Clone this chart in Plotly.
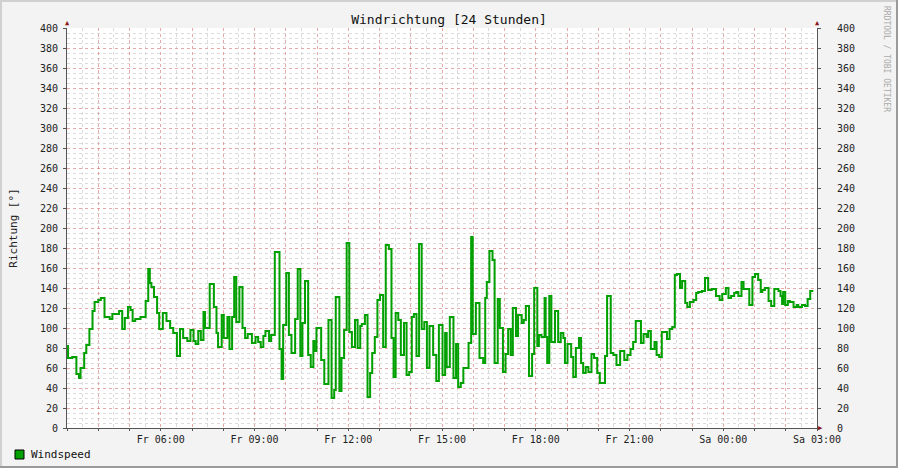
import plotly.graph_objects as go

# ---- data ----
minutes_after_fr_0300 = [0,2,10,18,23,26,33,37,43,49,53,60,65,72,82,87,100,106,111,117,122,126,131,141,151,156,159,162,167,173,177,184,191,198,204,211,217,223,231,237,243,247,252,257,262,265,274,282,287,290,297,301,308,312,317,321,325,331,337,342,347,355,362,367,372,377,381,388,392,399,408,412,415,421,426,431,438,443,448,452,457,463,468,473,475,479,488,494,502,508,513,516,523,527,532,537,542,547,553,558,563,566,572,577,582,586,591,596,601,607,612,618,623,627,631,636,641,647,652,657,662,666,671,676,681,686,691,696,703,709,714,721,726,729,735,742,747,751,756,761,771,776,779,785,792,799,803,806,811,817,821,827,831,837,842,847,852,856,862,866,873,877,881,887,893,897,903,906,911,917,919,922,926,930,937,943,948,953,956,961,968,972,977,983,987,991,996,1001,1007,1012,1018,1023,1033,1037,1044,1049,1055,1062,1070,1076,1082,1087,1092,1102,1107,1113,1116,1121,1128,1132,1137,1142,1152,1157,1162,1167,1171,1177,1181,1187,1191,1196,1203,1208,1212,1219,1225,1231,1238,1246,1253,1258,1265,1270,1275,1281,1285,1289,1295,1299,1310,1316,1321,1327,1332,1335,1340,1347,1352,1358,1366,1370,1373,1375,1379,1384,1388,1395,1401,1404,1411,1417,1422,1427,1433]
richtung = [82,70,71,54,50,60,75,83,99,117,126,128,130,111,109,114,117,99,110,121,118,107,109,111,127,159,145,141,131,115,99,115,107,100,95,72,99,90,87,98,87,84,97,88,116,100,144,121,95,81,113,90,111,79,111,151,106,141,100,90,94,85,91,86,81,92,97,87,93,176,79,49,103,155,93,75,109,159,72,105,147,73,61,87,77,100,68,44,108,30,38,131,37,70,98,185,96,81,108,80,102,104,113,31,55,75,91,128,133,81,183,179,90,51,115,108,73,105,53,56,111,114,72,184,99,106,60,102,73,47,103,53,95,61,111,50,84,41,45,60,85,191,94,125,70,65,130,146,177,168,65,129,100,56,74,99,73,120,92,113,105,108,122,52,74,140,82,93,91,130,91,65,132,86,117,86,95,90,65,84,71,51,80,90,65,55,61,56,74,70,55,45,72,132,75,73,63,77,68,73,79,86,107,85,94,91,97,79,86,73,71,96,89,99,101,153,154,140,147,125,121,126,128,135,136,137,150,138,139,132,128,134,140,130,132,135,136,132,146,139,123,151,154,148,136,138,140,127,122,139,137,132,124,136,123,127,126,121,123,121,123,122,129,137,137]

tick_minutes = [180, 360, 540, 720, 900, 1080, 1260, 1440]
tick_labels = ["Fr 06:00", "Fr 09:00", "Fr 12:00", "Fr 15:00", "Fr 18:00", "Fr 21:00", "Sa 00:00", "Sa 03:00"]
y_ticks = list(range(0, 401, 20))
legend_label = "Windspeed"

MONO = "DejaVu Sans Mono"
GREEN = "#00A000"
AXIS = "#555555"
MAJOR = "rgba(240,120,120,0.5)"
MINOR = "rgba(190,190,190,0.55)"

# hourly grid values, labels only every 3 hours
grid_vals = list(range(0, 1441, 60))
grid_text = [tick_labels[tick_minutes.index(v)] if v in tick_minutes else "" for v in grid_vals]

fig = go.Figure()
fig.add_trace(go.Scatter(
    x=minutes_after_fr_0300, y=richtung, mode="lines", line_shape="hv",
    line=dict(color=GREEN, width=2), showlegend=False, hoverinfo="skip"))
fig.add_trace(go.Scatter(x=[0], y=[0], yaxis="y2", mode="markers",
                         marker=dict(opacity=0), showlegend=False, hoverinfo="skip"))

fig.update_layout(
    width=898, height=468,
    margin=dict(l=67, r=81, t=28, b=40, autoexpand=False),
    paper_bgcolor="#F3F3F3", plot_bgcolor="white",
    font=dict(family=MONO, size=10, color="#222222"),
    showlegend=False,
    title=dict(text="Windrichtung [24 Stunden]", x=0.5, xanchor="center",
               y=1 - 19 / 468, yanchor="middle", font=dict(family=MONO, size=13, color="#111111")),
    xaxis=dict(range=[0, 1440], tickmode="array", tickvals=grid_vals, ticktext=grid_text,
               showgrid=True, gridcolor=MAJOR, griddash="dot", gridwidth=1,
               minor=dict(dtick=30, tick0=0, showgrid=True, gridcolor=MINOR, griddash="dot"),
               showline=True, linecolor=AXIS, linewidth=1, ticks="outside", ticklen=2,
               tickcolor=AXIS, zeroline=False, fixedrange=True, automargin=False,
               tickfont=dict(family=MONO, size=10, color="#222222")),
    yaxis=dict(range=[0, 400], tickmode="array", tickvals=y_ticks,
               showgrid=True, gridcolor=MAJOR, griddash="dot", gridwidth=1,
               minor=dict(dtick=5, tick0=0, showgrid=True, gridcolor=MINOR, griddash="dot"),
               showline=True, linecolor=AXIS, linewidth=1, ticks="outside", ticklen=3,
               tickcolor=AXIS, zeroline=False, ticklabelstandoff=3, automargin=False,
               title=dict(text="Richtung [°]", font=dict(family=MONO, size=11, color="#222222"), standoff=20),
               tickfont=dict(family=MONO, size=10, color="#222222")),
    yaxis2=dict(range=[0, 400], overlaying="y", side="right", tickmode="array", tickvals=y_ticks,
                showgrid=False, showline=True, linecolor=AXIS, linewidth=1, automargin=False,
                ticks="outside", ticklen=3, tickcolor=AXIS, zeroline=False, ticklabelstandoff=14,
                tickfont=dict(family=MONO, size=10, color="#222222")),
)

# pixel helpers (plot area: x 67..817, y 28..428)
W, Hp = 750.0, 400.0
def px(xp):
    return (xp - 67) / W
def py(yp):
    return (428 - yp) / Hp

# frame of the image
frame = [
    (0, 1, 898, 1, "#D0D0D0"), (1, 0, 1, 468, "#D0D0D0"),
    (0, 467, 898, 467, "#9A9A9A"), (897, 0, 897, 468, "#9A9A9A"),
]
for x0, y0, x1, y1, c in frame:
    fig.add_shape(type="line", xref="paper", yref="paper", x0=px(x0), y0=py(y0), x1=px(x1), y1=py(y1),
                  line=dict(color=c, width=2), layer="above")

# legend (drawn manually so it does not move the plot area)
fig.add_shape(type="rect", xref="paper", yref="paper", x0=px(15), x1=px(24), y0=py(459), y1=py(450),
              fillcolor=GREEN, line=dict(color="black", width=1))
fig.add_annotation(xref="paper", yref="paper", x=px(29), y=py(454.5), text=legend_label, showarrow=False,
                   xanchor="left", yanchor="middle", font=dict(family=MONO, size=11, color="#111111"))

# axis arrow heads
arrow_col = "#8B1A1A"
for ax in (0, 1):
    fig.add_annotation(xref="paper", yref="paper", x=ax, y=1, text="▲", showarrow=False,
                       font=dict(size=7, color=arrow_col), xanchor="center", yanchor="bottom", yshift=-1)
fig.add_annotation(xref="paper", yref="paper", x=1, y=0, text="▶", showarrow=False,
                   font=dict(size=7, color=arrow_col), xanchor="left", yanchor="middle", xshift=-1)

# watermark
fig.add_annotation(xref="paper", yref="paper", x=px(887), y=py(59), text="RRDTOOL / TOBI OETIKER",
                   showarrow=False, textangle=90, font=dict(family=MONO, size=8, color="#AAAAAA"),
                   xanchor="center", yanchor="middle")

fig.write_html("out.html", config={"displayModeBar": False},
               post_script="document.body.style.margin='0';document.body.style.overflow='hidden';")
